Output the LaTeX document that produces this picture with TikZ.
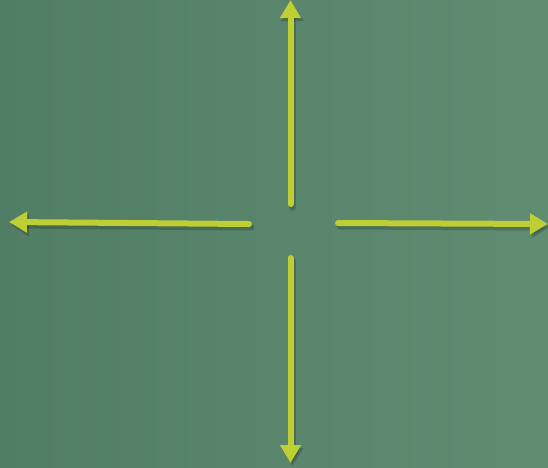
\documentclass[tikz,border=0pt]{standalone}
\usepackage{xcolor}
\usepackage{tikz}
\usetikzlibrary{arrows.meta}
\definecolor{boardleft}{RGB}{80,126,100}
\definecolor{boardright}{RGB}{96,140,114}
\definecolor{chalk}{RGB}{190,206,52}

\begin{document}
\begin{tikzpicture}[x=1pt,y=-1pt,
  chalkarrow/.style={chalk,line width=6pt,line cap=round,
    -{Triangle[length=18pt,width=20pt]}},
  chalkshadow/.style={black,opacity=0.18,line width=7pt,line cap=round,
    -{Triangle[length=18pt,width=21pt]}}]
  \shade[left color=boardleft,right color=boardright] (0,0) rectangle (548,467);
  \useasboundingbox (0,0) rectangle (548,467);
  \coordinate (upS) at (290.5,204);
  \coordinate (upE) at (290.5,0);
  \coordinate (leftS) at (249,224);
  \coordinate (leftE) at (9,222);
  \coordinate (rightS) at (338,223);
  \coordinate (rightE) at (548,224);
  \coordinate (downS) at (290.5,258);
  \coordinate (downE) at (290.5,463);
  % shadows
  \foreach \s/\e in {upS/upE,leftS/leftE,rightS/rightE,downS/downE}
    \draw[chalkshadow,transform canvas={shift={(2pt,-3pt)}}] (\s) -- (\e);
  % arrows
  \foreach \s/\e in {upS/upE,leftS/leftE,rightS/rightE,downS/downE}
    \draw[chalkarrow] (\s) -- (\e);
\end{tikzpicture}
\end{document}
